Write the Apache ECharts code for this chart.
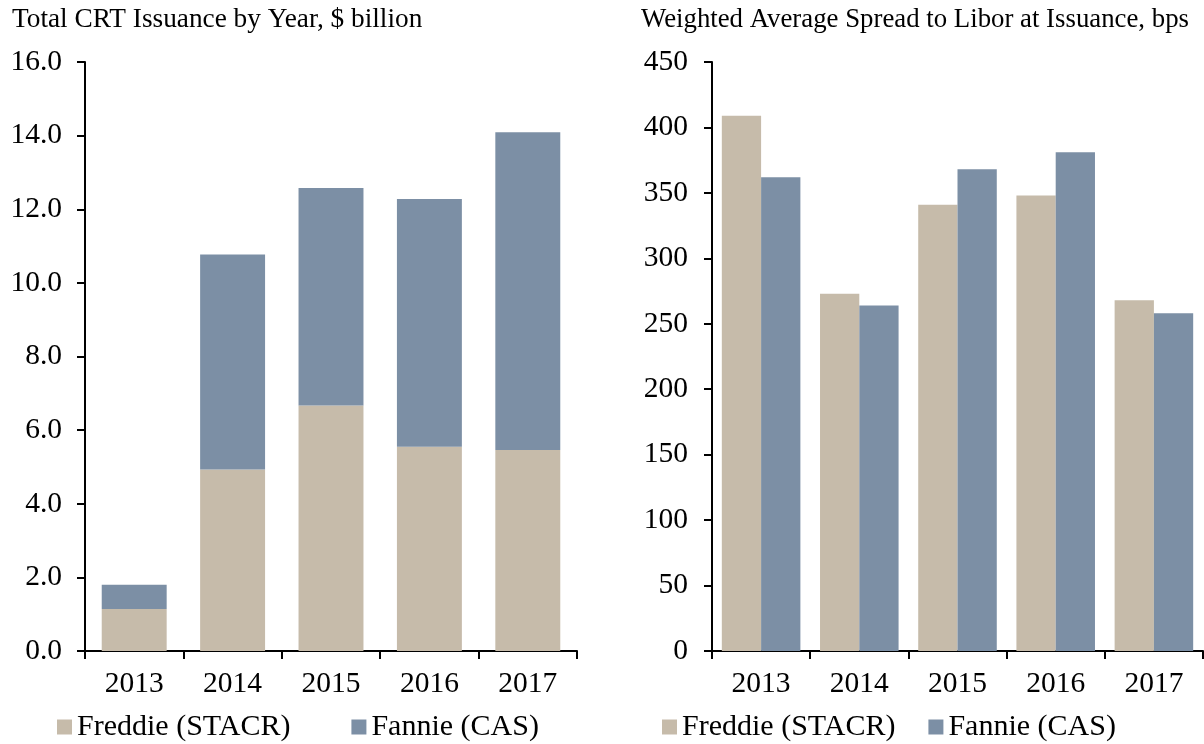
<!DOCTYPE html>
<html>
<head>
<meta charset="utf-8">
<script src="https://cdn.jsdelivr.net/npm/echarts@6/dist/echarts.min.js"></script>
<style>
html,body{margin:0;padding:0;background:#fff;}
#chart{width:1204px;height:744px;}
</style>
</head>
<body>
<div id="chart"></div>
<script>
const years = ['2013', '2014', '2015', '2016', '2017'];
const seriesNames = ['Freddie (STACR)', 'Fannie (CAS)'];
const leftTitle = 'Total CRT Issuance by Year, $ billion';
const rightTitle = 'Weighted Average Spread to Libor at Issuance, bps';
// $ billion, stacked
const issuanceFreddie = [1.14, 4.93, 6.67, 5.55, 5.46];
const issuanceFannie = [0.66, 5.84, 5.91, 6.73, 8.63];
// bps
const spreadFreddie = [409, 273, 341, 348, 268];
const spreadFannie = [362, 264, 368, 381, 258];

const FONT = 'Liberation Serif';
const TAN = '#C6BBAA';
const BLUE = '#7C8FA5';

const chart = echarts.init(document.getElementById('chart'));

function xAxis(gridIndex) {
  return {
    type: 'category', gridIndex: gridIndex, data: years,
    axisLine: { lineStyle: { color: '#000', width: 2 } },
    axisTick: { show: true, length: 8, lineStyle: { color: '#000', width: 2 } },
    axisLabel: { color: '#000', fontFamily: FONT, fontSize: 29.5, margin: 18 }
  };
}
function yAxis(gridIndex, max, interval, decimals, margin) {
  return {
    type: 'value', gridIndex: gridIndex, min: 0, max: max, interval: interval,
    axisLine: { show: true, lineStyle: { color: '#000', width: 2 } },
    axisTick: { show: true, length: 8, lineStyle: { color: '#000', width: 2 } },
    splitLine: { show: false },
    axisLabel: { color: '#000', fontFamily: FONT, fontSize: 29.5, margin: margin,
      formatter: v => v.toFixed(decimals) }
  };
}

chart.setOption({
  animation: false,
  backgroundColor: '#fff',
  title: [
    { text: leftTitle, left: 12, top: 6, padding: 0, textStyle: { fontFamily: FONT, fontSize: 27.3, fontWeight: 'normal', color: '#000' } },
    { text: rightTitle, left: 641, top: 6, padding: 0, textStyle: { fontFamily: FONT, fontSize: 26.8, fontWeight: 'normal', color: '#000' } }
  ],
  legend: [
    { left: 57, top: 712, padding: 0, itemWidth: 15, itemHeight: 15, itemGap: 61, icon: 'rect',
      data: seriesNames.map(n => ({ name: n })),
      textStyle: { fontFamily: FONT, fontSize: 30, color: '#000' } },
    { left: 662, top: 712, padding: 0, itemWidth: 15, itemHeight: 15, itemGap: 33, icon: 'rect',
      data: seriesNames.map(n => ({ name: n })),
      textStyle: { fontFamily: FONT, fontSize: 30, color: '#000' } }
  ],
  grid: [
    { left: 85, top: 62, width: 492, height: 589 },
    { left: 712, top: 62, width: 491, height: 589 }
  ],
  xAxis: [xAxis(0), xAxis(1)],
  yAxis: [yAxis(0, 16, 2, 1, 23), yAxis(1, 450, 50, 0, 24)],
  series: [
    { name: seriesNames[0], type: 'bar', stack: 'total', xAxisIndex: 0, yAxisIndex: 0,
      data: issuanceFreddie, itemStyle: { color: TAN }, barCategoryGap: '34%' },
    { name: seriesNames[1], type: 'bar', stack: 'total', xAxisIndex: 0, yAxisIndex: 0,
      data: issuanceFannie, itemStyle: { color: BLUE }, barCategoryGap: '34%' },
    { name: seriesNames[0], type: 'bar', xAxisIndex: 1, yAxisIndex: 1,
      data: spreadFreddie, itemStyle: { color: TAN }, barGap: '0%', barCategoryGap: '20%' },
    { name: seriesNames[1], type: 'bar', xAxisIndex: 1, yAxisIndex: 1,
      data: spreadFannie, itemStyle: { color: BLUE }, barGap: '0%', barCategoryGap: '20%' }
  ]
});
</script>
</body>
</html>
